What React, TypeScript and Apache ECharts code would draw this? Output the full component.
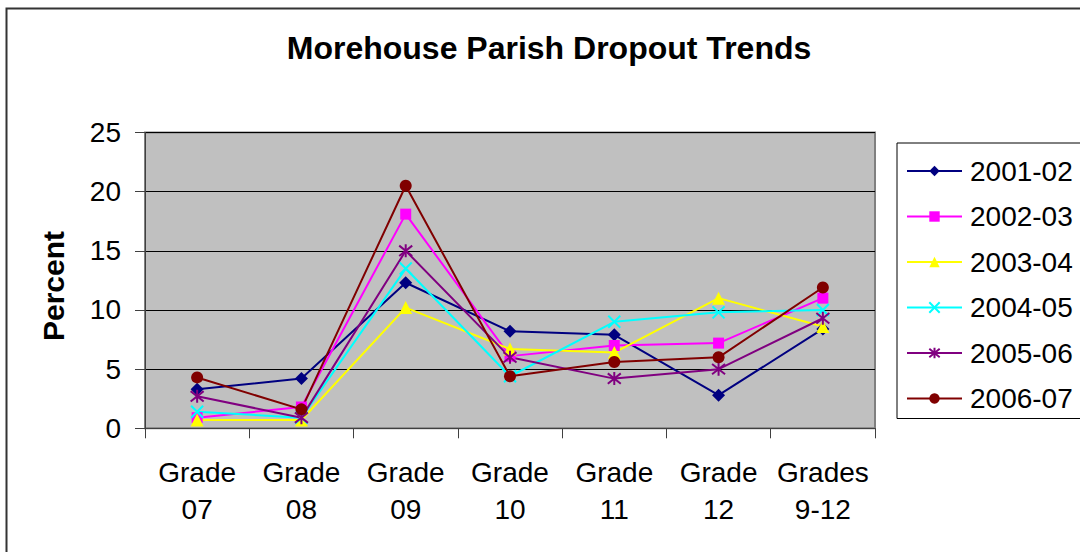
import React, { useEffect, useRef } from "react";
import * as echarts from "echarts";

const categories = ["Grade\n07", "Grade\n08", "Grade\n09", "Grade\n10", "Grade\n11", "Grade\n12", "Grades\n9-12"];
const seriesNames = ["2001-02", "2002-03", "2003-04", "2004-05", "2005-06", "2006-07"];
const s2001 = [3.3, 4.2, 12.3, 8.2, 7.9, 2.8, 8.4];
const s2002 = [0.9, 1.8, 18.1, 6.1, 7.0, 7.2, 11.0];
const s2003 = [0.7, 0.7, 10.2, 6.7, 6.4, 11.0, 8.6];
const s2004 = [1.4, 0.9, 13.5, 4.4, 9.0, 9.8, 10.0];
const s2005 = [2.7, 0.9, 15.0, 6.0, 4.2, 5.0, 9.3];
const s2006 = [4.3, 1.6, 20.5, 4.4, 5.6, 6.0, 11.9];
const seriesValues = [s2001, s2002, s2003, s2004, s2005, s2006];

const colors = ["#000080", "#FF00FF", "#FFFF00", "#00FFFF", "#800080", "#800000"];
const symbols = [
  "diamond",
  "rect",
  "triangle",
  "path://M0,0 L10,10 M10,0 L0,10",
  "path://M1,1 L9,9 M9,1 L1,9 M5,0 L5,10",
  "circle",
];
const symbolSizes = [13, 11, 13, 12, 13, 12];

const FONT = '"Liberation Sans", Arial, sans-serif';

export default function App() {
  const ref = useRef<HTMLDivElement>(null);
  useEffect(() => {
    if (!ref.current) return;
    const chart = echarts.init(ref.current, undefined, { renderer: "svg" });
    const series = seriesNames.map((name, i) => {
      const isStroke = i === 3 || i === 4;
      return {
        name,
        type: "line",
        data: seriesValues[i],
        symbol: symbols[i],
        symbolSize: symbolSizes[i],
        showAllSymbol: true,
        lineStyle: { color: colors[i], width: 2 },
        itemStyle: isStroke
          ? { color: colors[i], borderColor: colors[i], borderWidth: 2 }
          : { color: colors[i], borderWidth: 0 },
        emphasis: { disabled: true },
      };
    });
    chart.setOption({
      animation: false,
      backgroundColor: "#FFFFFF",
      textStyle: { fontFamily: FONT },
      graphic: [
        {
          type: "rect",
          shape: { x: 6.5, y: 8.5, width: 1100, height: 600 },
          style: { fill: "none", stroke: "#333333", lineWidth: 2 },
          silent: true,
        },
        {
          type: "text",
          x: 549,
          y: 47.5,
          style: {
            text: "Morehouse Parish Dropout Trends",
            font: 'bold 32px "Liberation Sans", Arial, sans-serif',
            fill: "#000000",
            textAlign: "center",
            textVerticalAlign: "middle",
            align: "center",
            verticalAlign: "middle",
          },
          silent: true,
        },
        {
          type: "text",
          x: 53,
          y: 286,
          rotation: Math.PI / 2,
          style: {
            text: "Percent",
            font: 'bold 30px "Liberation Sans", Arial, sans-serif',
            fill: "#000000",
            textAlign: "center",
            textVerticalAlign: "middle",
            align: "center",
            verticalAlign: "middle",
          },
          silent: true,
        },
      ],
      grid: {
        left: 145,
        right: 205,
        top: 132.5,
        bottom: 123.7,
        show: true,
        backgroundColor: "#C0C0C0",
        borderColor: "#808080",
        borderWidth: 2,
      },
      legend: {
        data: seriesNames,
        orient: "vertical",
        left: 897,
        top: 143,
        padding: [13, 12, 5, 9],
        itemWidth: 55,
        itemHeight: 13,
        itemGap: 15.5,
        borderColor: "#000000",
        borderWidth: 1,
        backgroundColor: "#FFFFFF",
        textStyle: { fontSize: 28, color: "#000000", fontFamily: FONT, lineHeight: 30, padding: [0, 0, 0, 3] },
        selectedMode: false,
      },
      xAxis: {
        type: "category",
        data: categories,
        boundaryGap: true,
        axisLine: { show: true, lineStyle: { color: "#404040", width: 1 } },
        axisTick: { show: true, length: 10, lineStyle: { color: "#404040", width: 1 } },
        axisLabel: {
          fontSize: 28,
          lineHeight: 37,
          color: "#000000",
          margin: 26,
          interval: 0,
          fontFamily: FONT,
          align: "center",
        },
        splitLine: { show: false },
      },
      yAxis: {
        type: "value",
        min: 0,
        max: 25,
        interval: 5,
        axisLine: { show: true, lineStyle: { color: "#404040", width: 1 } },
        axisTick: { show: true, length: 10, lineStyle: { color: "#404040", width: 1 } },
        axisLabel: { fontSize: 28, color: "#000000", margin: 24, fontFamily: FONT },
        splitLine: { show: true, lineStyle: { color: "#000000", width: 1 } },
      },
      series,
    });
    return () => chart.dispose();
  }, []);
  return (
    <div
      ref={ref}
      style={{ position: "absolute", left: 0, top: 0, width: 1080, height: 552 }}
    />
  );
}
